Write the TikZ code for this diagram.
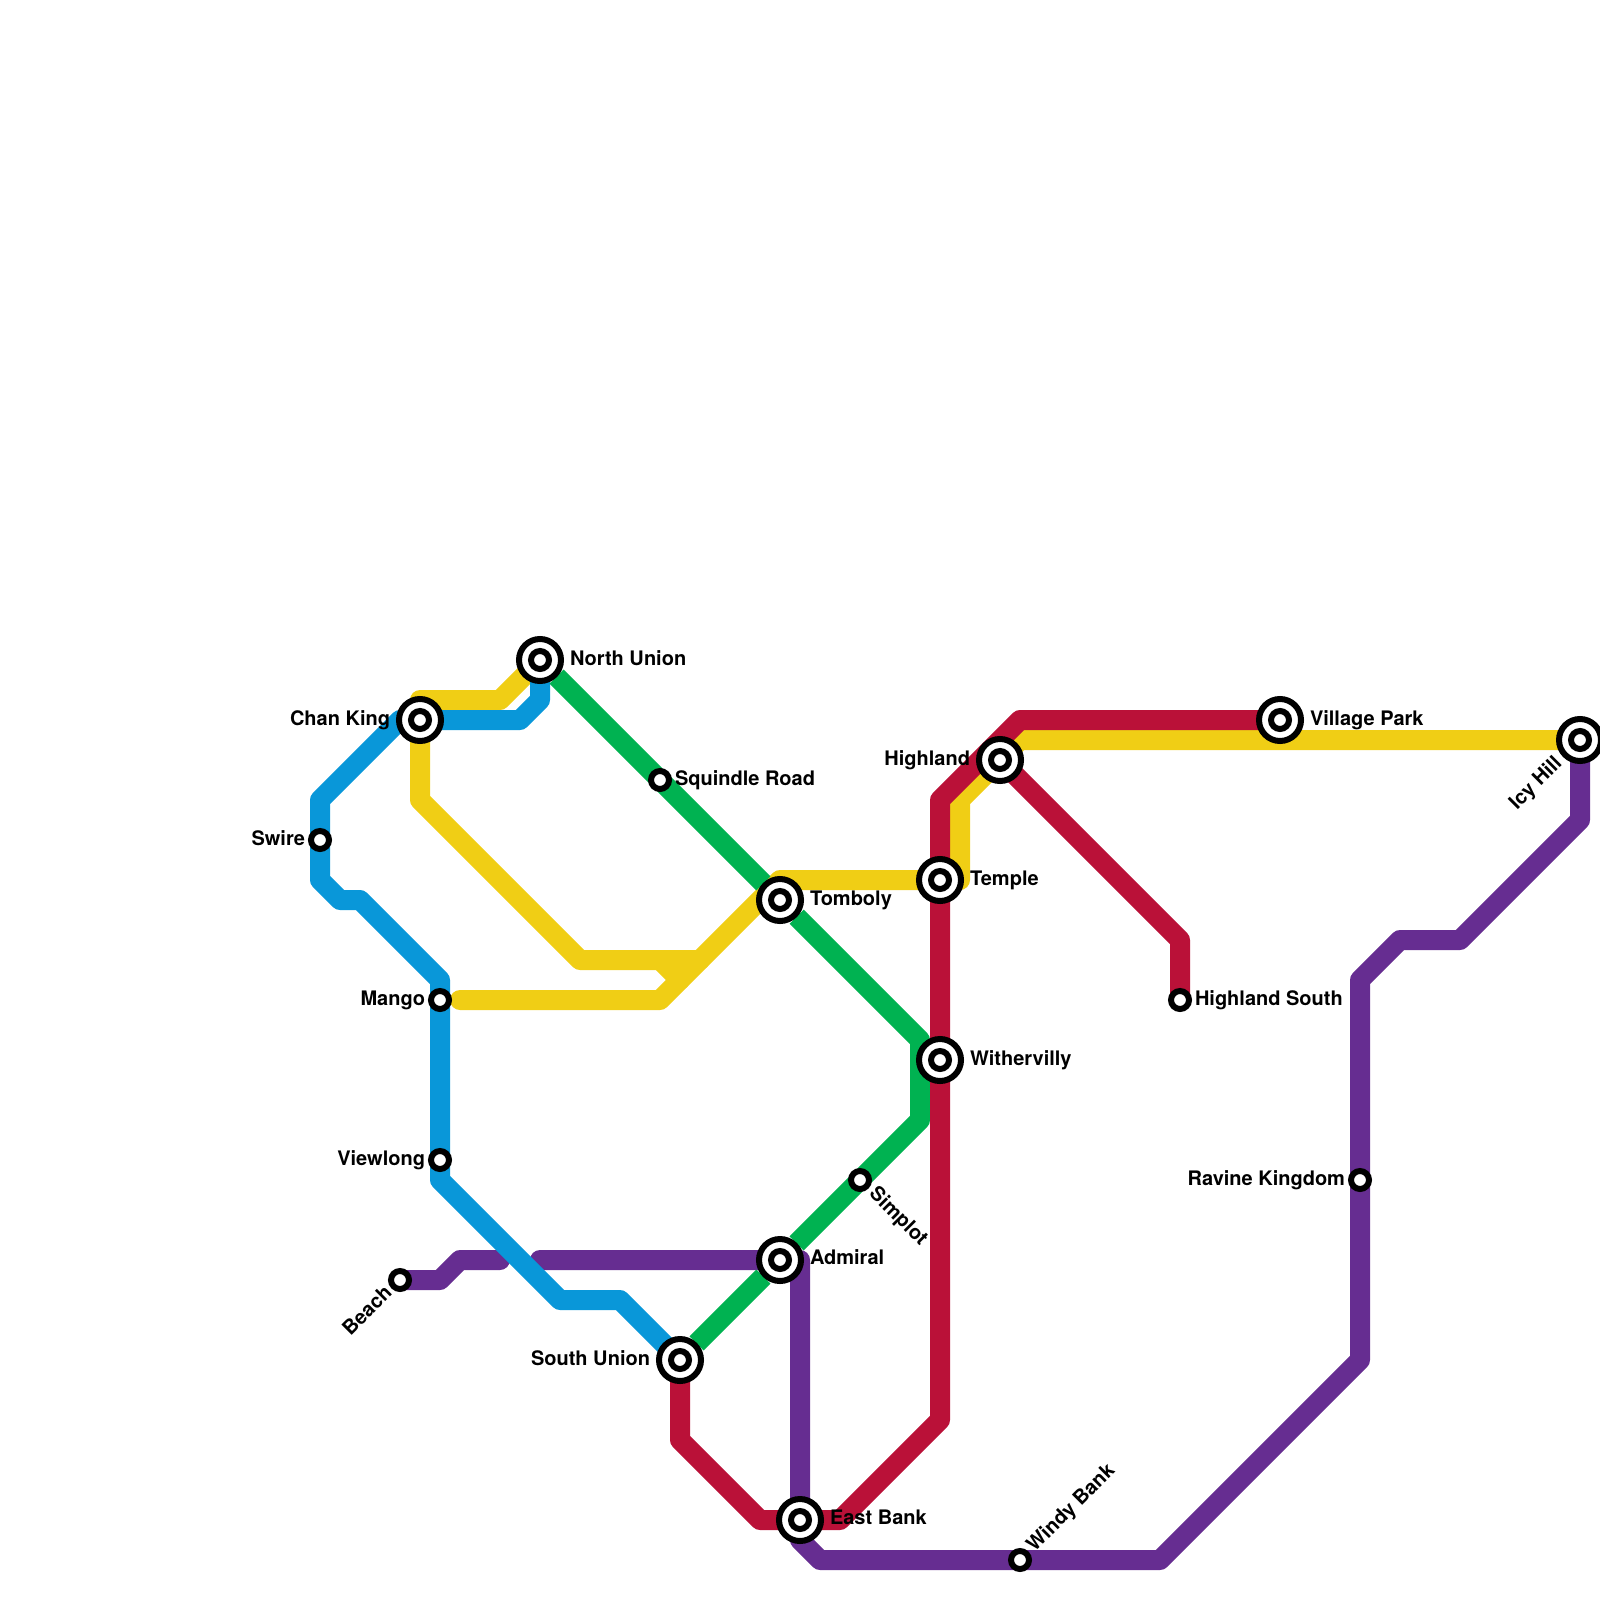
\documentclass[tikz,border=0pt]{standalone}
\usepackage{fontspec}
\setmainfont{TeX Gyre Heros}
\usetikzlibrary{backgrounds}
\definecolor{lblue}{HTML}{0997D9}
\definecolor{lyellow}{HTML}{F0CE15}
\definecolor{lgreen}{HTML}{00B251}
\definecolor{lred}{HTML}{BA1138}
\definecolor{lpurple}{HTML}{662D91}
\tikzset{
  x=1pt,y=-1pt,
  metro/.style={line width=20pt,line cap=round,line join=round},
  cut/.style={line cap=butt,shorten <=23.5pt,shorten >=23.5pt},
  ix/.style={circle,draw=black,fill=white,line width=6pt,minimum size=42pt,inner sep=0pt,outer sep=0pt,
    path picture={\draw[black,line width=6pt] (path picture bounding box.center) circle[radius=9pt];}},
  stop/.style={circle,draw=black,fill=white,line width=6pt,minimum size=18pt,inner sep=0pt,outer sep=0pt},
  lab/.style={font=\fontsize{20}{24}\selectfont\bfseries,inner sep=0pt,outer sep=0pt,text=black},
  labr/.style={lab,anchor=base west},
  labl/.style={lab,anchor=base east},
}
\begin{document}
\begin{tikzpicture}
\useasboundingbox (0,0) rectangle (1600,1600);
% stations
\node[ix] (northunion) at (540,660) {};
\node[ix] (chanking) at (420,720) {};
\node[stop] (swire) at (320,840) {};
\node[stop] (mango) at (440,1000) {};
\node[stop] (viewlong) at (440,1160) {};
\node[stop] (beach) at (400,1280) {};
\node[ix] (southunion) at (680,1360) {};
\node[ix] (admiral) at (780,1260) {};
\node[ix] (eastbank) at (800,1520) {};
\node[stop] (windybank) at (1020,1560) {};
\node[stop] (simplot) at (860,1180) {};
\node[ix] (withervilly) at (940,1060) {};
\node[ix] (temple) at (940,880) {};
\node[ix] (tomboly) at (780,900) {};
\node[stop] (squindle) at (660,780) {};
\node[ix] (highland) at (1000,760) {};
\node[ix] (villagepark) at (1280,720) {};
\node[ix] (icyhill) at (1580,740) {};
\node[stop] (highlandsouth) at (1180,1000) {};
\node[stop] (ravine) at (1360,1180) {};
% free ends
\coordinate (yellowend) at (460,1000);
\coordinate (yellowspur) at (700,960);
\coordinate (purpleA) at (540,1260);
\coordinate (purpleB) at (500,1260);
\begin{pgfonlayer}{background}
% yellow
\draw[metro,lyellow] (icyhill.center) -- (1020,740) -- (highland.center) -- (960,800) -- (960,880) -- (temple.center) -- (780,880) -- (660,1000) -- (yellowend);
\draw[metro,lyellow] (northunion.center) -- (500,700) -- (420,700) -- (chanking.center) -- (420,800) -- (580,960) -- (yellowspur);
\draw[metro,lyellow] (660,960) -- (680,980);
% purple
\draw[metro,lpurple] (icyhill.center) -- (1580,820) -- (1460,940) -- (1400,940) -- (1360,980) -- (ravine.center) -- (1360,1360) -- (1160,1560) -- (windybank.center) -- (820,1560) -- (800,1540) -- (eastbank.center) -- (800,1260) -- (admiral.center) -- (purpleA);
\draw[metro,lpurple] (beach.center) -- (440,1280) -- (460,1260) -- (purpleB);
% blue
\draw[metro,lblue] (northunion.center) -- (540,700) -- (520,720) -- (chanking.center) -- (400,720) -- (320,800) -- (swire.center) -- (320,880) -- (340,900) -- (360,900) -- (440,980) -- (mango.center) -- (viewlong.center) -- (440,1180) -- (560,1300) -- (620,1300) -- (southunion.center);
% green
\draw[metro,cut,lgreen] (northunion.center) -- (squindle.center) -- (tomboly.center);
\draw[metro,cut,lgreen] (tomboly.center) -- (920,1040) -- (920,1120) -- (simplot.center) -- (admiral.center);
\draw[metro,cut,lgreen] (admiral.center) -- (southunion.center);
% red
\draw[metro,lred] (villagepark.center) -- (1020,720) -- (940,800) -- (temple.center) -- (withervilly.center) -- (940,1420) -- (840,1520) -- (eastbank.center) -- (760,1520) -- (680,1440) -- (southunion.center);
\draw[metro,lred] (highland.center) -- (1180,940) -- (highlandsouth.center);
\end{pgfonlayer}
% labels
\node[labr] (tnorthunion) at (570,665) {North Union};
\node[labl] (tchanking) at (390,725) {Chan King};
\node[labl] (tswire) at (305,845) {Swire};
\node[labl] (tmango) at (425,1005) {Mango};
\node[labl] (tviewlong) at (425,1165) {Viewlong};
\node[labl] (tsouthunion) at (650,1365) {South Union};
\node[labr] (tadmiral) at (810,1264) {Admiral};
\node[labr] (teastbank) at (830,1524) {East Bank};
\node[labr] (twithervilly) at (970,1065) {Withervilly};
\node[labr] (ttemple) at (970,885) {Temple};
\node[labr] (ttomboly) at (810,905) {Tomboly};
\node[labr] (tsquindle) at (675,785) {Squindle Road};
\node[labl] (thighland) at (970,765) {Highland};
\node[labr] (tvillagepark) at (1310,725) {Village Park};
\node[labr] (thighlandsouth) at (1195,1005) {Highland South};
\node[labl] (travine) at (1345,1185) {Ravine Kingdom};
\node[lab,rotate=45,anchor=east] (tbeach) at (388,1289) {Beach};
\node[lab,rotate=45,anchor=east] (ticyhill) at (1559,761) {Icy Hill};
\node[lab,rotate=45,anchor=west] (twindybank) at (1031,1549) {Windy Bank};
\node[lab,rotate=-45,anchor=west] (tsimplot) at (872,1191) {Simplot};
\end{tikzpicture}
\end{document}
